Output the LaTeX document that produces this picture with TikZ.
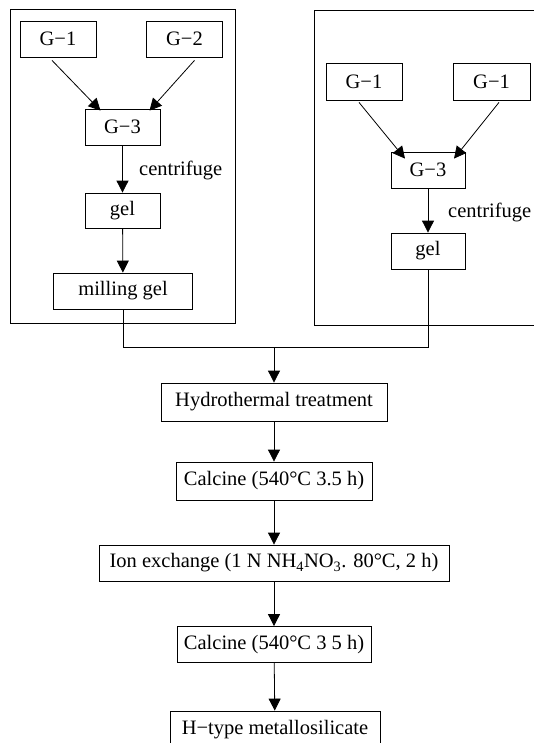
\documentclass[tikz,border=0pt]{standalone}
\usepackage{fontspec}
\setmainfont{Liberation Serif}
\usetikzlibrary{arrows.meta}
\tikzset{
  box/.style={draw, line width=0.8bp, inner sep=0pt, minimum height=36bp,
    font=\fontsize{20.5bp}{24bp}\selectfont},
  lbl/.style={inner sep=0pt, font=\fontsize{20.5bp}{24bp}\selectfont},
  arr/.style={line width=0.8bp, -{Triangle[length=12bp,width=12bp]}},
  ln/.style={line width=0.8bp},
  frame/.style={line width=0.8bp}
}
\begin{document}
\begin{tikzpicture}[x=1bp,y=-1bp]
\useasboundingbox (0,0) rectangle (534,743);
% left panel
\draw[frame] (10,9) rectangle (235,323);
\node[box, minimum width=76bp] (g1) at (58,39) {G−1};
\node[box, minimum width=76bp] (g2) at (184.5,39) {G−2};
\node[box, minimum width=75bp] (g3) at (122.5,127) {G−3};
\node[lbl, anchor=west] (c1) at (139,170) {centrifuge};
\node[box, minimum width=75bp, minimum height=35bp] (gel1) at (122.5,210.5) {gel};
\node[box, minimum width=139bp] (mill) at (123,291) {milling gel};
\draw[arr] ([xshift=-6bp,yshift=-3bp]g1.south) -- ([xshift=-22bp,yshift=-2bp]g3.north);
\draw[arr] ([xshift=10bp,yshift=-3bp]g2.south) -- ([xshift=27bp,yshift=-2bp]g3.north);
\draw[arr] (g3) -- (gel1);
\draw[arr] (gel1) -- (mill);
% right panel
\draw[frame] (534,10) -- (314,10) -- (314,325) -- (534,325);
\node[box, minimum width=76bp, minimum height=37bp] (r1) at (364,81.5) {G−1};
\node[box, minimum width=77bp, minimum height=37bp] (r2) at (491.5,81.5) {G−1};
\node[box, minimum width=74bp] (r3) at (428,170) {G−3};
\node[lbl, anchor=west] (c2) at (448,212) {centrifuge};
\node[box, minimum width=74bp] (gel2) at (428,251) {gel};
\draw[arr] ([xshift=-5bp,yshift=-2bp]r1.south) -- ([xshift=-23bp,yshift=-7bp]r3.north);
\draw[arr] ([xshift=7.5bp,yshift=-2bp]r2.south) -- ([xshift=26bp,yshift=-7bp]r3.north);
\draw[arr] (r3) -- (gel2);
% merge
\coordinate (jl) at (123,347);
\coordinate (jr) at (428,347);
\coordinate (jm) at (274,347);
\node[box, minimum width=226bp, minimum height=38bp] (hyd) at (274,402) {Hydrothermal treatment};
\draw[ln] (mill.south) -- (jl) -- (jr) -- (gel2.south);
\draw[arr] (jm) -- (hyd);
% chain
\node[box, minimum width=196bp, minimum height=38bp] (cal1) at (274,481) {Calcine (540°C 3.5 h)};
\node[box, minimum width=350bp] (ion) at (274,563) {Ion exchange (1 N NH\textsubscript{4}NO\textsubscript{3}. 80°C, 2 h)};
\node[box, minimum width=194bp, minimum height=36bp] (cal2) at (274,644.5) {Calcine (540°C 3 5 h)};
\node[box, minimum width=210bp, minimum height=38bp] (ht) at (275,730) {H−type metallosilicate};
\draw[arr] (hyd) -- (cal1);
\draw[arr] (cal1) -- (ion);
\draw[arr] (ion) -- (cal2);
\draw[arr] (cal2) -- (ht);
\end{tikzpicture}
\end{document}
